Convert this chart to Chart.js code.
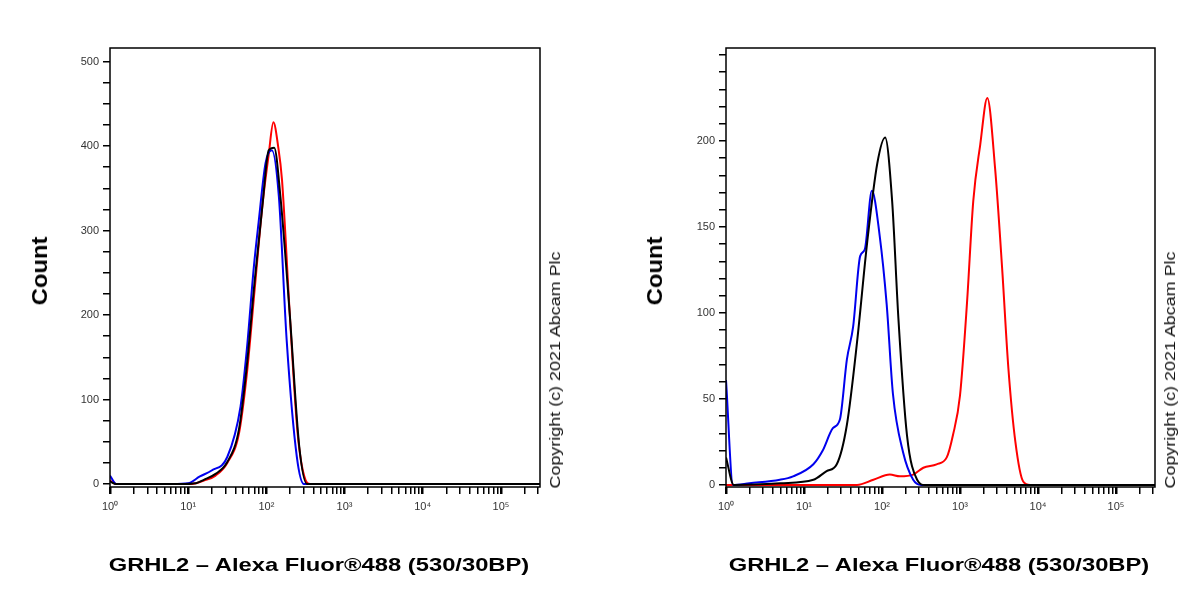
<!DOCTYPE html>
<html><head><meta charset="utf-8">
<script src="https://cdn.jsdelivr.net/npm/chart.js@4"></script>
<style>
body{margin:0;background:#fff;width:1200px;height:600px;position:relative;overflow:hidden;font-family:Arial,"Liberation Sans",sans-serif}
canvas{position:absolute;top:0}
.t{position:absolute;white-space:nowrap}
.cnt{font-weight:bold;font-size:22px;transform:translate(-50%,-50%) rotate(-90deg) scaleX(1.08)}
.xt{font-weight:bold;font-size:19px;transform:translate(-50%,-50%) scaleX(1.25)}
.cp{font-size:14px;transform:translate(-50%,-50%) rotate(-90deg) scaleX(1.28);color:#111}
</style></head><body>
<div style="position:absolute;left:0;top:0;width:600px;height:600px"><canvas id="c1"></canvas></div>
<div style="position:absolute;left:600px;top:0;width:600px;height:600px"><canvas id="c2"></canvas></div>
<div class="t cnt" style="left:40px;top:271px">Count</div>
<div class="t cnt" style="left:655px;top:271px">Count</div>
<div class="t xt" style="left:319px;top:565px">GRHL2 – Alexa Fluor®488 (530/30BP)</div>
<div class="t xt" style="left:939px;top:565px">GRHL2 – Alexa Fluor®488 (530/30BP)</div>
<div class="t cp" style="left:555px;top:370px">Copyright (c) 2021 Abcam Plc</div>
<div class="t cp" style="left:1170px;top:370px">Copyright (c) 2021 Abcam Plc</div>
<script>
// Left panel (log10 of fluorescence, counts)
const L_blueX=[0,0.08,0.8,1.0,1.15,1.3,1.5,1.67,1.75,1.84,1.9,1.99,2.07,2.16,2.26,2.39,2.48,5.5];
const L_blueY=[10,0,0,1,9,16,32,92,159,257,309,380,395,340,170,32,0,0];
const L_blackX=[0,0.08,0.9,1.1,1.2,1.35,1.5,1.65,1.75,1.85,1.95,2.03,2.1,2.18,2.3,2.42,2.52,5.5];
const L_blackY=[3,0,0,1,5,12,26,65,140,240,330,395,398,340,200,45,0,0];
const L_redX=[0,0.08,1.0,1.1,1.2,1.35,1.5,1.65,1.75,1.85,1.95,2.03,2.09,2.15,2.2,2.3,2.4,2.5,2.56,5.5];
const L_redY=[4,0,0,1,4,10,25,60,130,230,330,390,428,400,360,200,60,5,0,0];
// Right panel
const R_blueX=[0,0.09,0.3,0.69,0.86,1.12,1.24,1.37,1.46,1.55,1.63,1.72,1.78,1.87,1.97,2.06,2.14,2.27,2.4,2.5,5.5];
const R_blueY=[61,0,1,3,5,12,20,33,38,73,92,133,137,171,145,105,53,19,3,0,0];
const R_blackX=[0,0.1,0.7,1.12,1.29,1.42,1.55,1.68,1.81,1.94,2.04,2.13,2.21,2.32,2.45,2.55,5.5];
const R_blackY=[16,0,1,3,8,12,35,83,141,187,202,165,97,29,3,0,0];
const R_redX=[0,1.68,1.89,2.1,2.23,2.4,2.53,2.7,2.83,2.91,3.0,3.09,3.17,3.26,3.35,3.45,3.54,3.62,3.71,3.81,3.9,5.5];
const R_redY=[0,0,3,6,5,6,10,12,16,29,52,106,165,198,225,184,126,68,25,2,0,0];
const supers=['⁰','¹','²','³','⁴','⁵'];

function pts(xs,ys){return xs.map((v,i)=>({x:Math.pow(10,v),y:ys[i]}));}
const box={id:'box',afterDraw(c){const a=c.chartArea,x=c.ctx;x.save();x.strokeStyle='#000';x.lineWidth=1.5;x.strokeRect(a.left,a.top,a.right-a.left,a.bottom-a.top);x.restore();}};
function make(id,series,ymin,ymax,step,labelEvery,labelMax,axW,padR){
  new Chart(document.getElementById(id),{type:'scatter',
    data:{datasets:series.map(s=>({data:pts(s[0],s[1]),borderColor:s[2],showLine:true,pointRadius:0,borderWidth:2,cubicInterpolationMode:'monotone',fill:false}))},
    options:{responsive:false,animation:false,events:[],
      layout:{padding:{left:0,right:padR,top:48,bottom:0}},
      plugins:{legend:{display:false},tooltip:{enabled:false}},
      scales:{
        x:{type:'logarithmic',min:1,max:Math.pow(10,5.5),
          afterFit(s){s.height=113;},
          afterBuildTicks(s){const t=[];for(let e=0;e<=5;e++)for(let m=1;m<=9;m++){const v=m*Math.pow(10,e);if(v<=s.max)t.push({value:v});}s.ticks=t;},
          grid:{drawOnChartArea:false,tickLength:7,color:'#000',lineWidth:c=>{const v=c.tick&&c.tick.value;return v&&Math.abs(Math.log10(v)%1)<1e-9?2.5:1.5;}},
          border:{display:false},
          ticks:{autoSkip:false,maxRotation:0,color:'#333',font:{size:11,family:'Arial'},padding:6,
            callback(v){const e=Math.log10(v);if(Math.abs(e-Math.round(e))<1e-9)return '10'+supers[Math.round(e)];return '';}}},
        y:{min:ymin,max:ymax,afterFit(s){s.width=axW;},
          afterBuildTicks(s){const t=[];for(let v=0;v<=ymax;v+=step)t.push({value:v});s.ticks=t;},
          grid:{drawOnChartArea:false,tickLength:7,color:'#000',lineWidth:1.5},
          border:{display:false},
          ticks:{color:'#333',font:{size:11,family:'Arial'},padding:4,callback(v){return (v%labelEvery===0&&v<=labelMax)?String(v):'';}}}
      }},plugins:[box]});
}
const c1=document.getElementById('c1');c1.width=600;c1.height=600;
const c2=document.getElementById('c2');c2.width=600;c2.height=600;
make('c1',[[L_blackX,L_blackY,'#000'],[L_blueX,L_blueY,'#0000ee'],[L_redX,L_redY,'#ff0000']],-3.5,516,25,100,500,110,60);
make('c2',[[R_blackX,R_blackY,'#000'],[R_blueX,R_blueY,'#0000ee'],[R_redX,R_redY,'#ff0000']],-1.2,254,10,50,200,126,45);
</script></body></html>
